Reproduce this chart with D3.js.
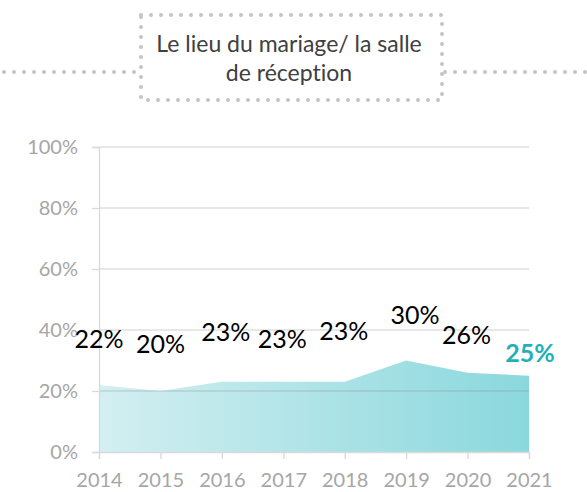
<!DOCTYPE html>
<html>
<head>
<meta charset="utf-8">
<script src="https://cdn.jsdelivr.net/npm/d3@7"></script>
<style>
  body { margin: 0; background: #fff; }
  svg { display: block; font-family: Lato, "Open Sans", sans-serif; font-variant-ligatures: none; }
</style>
</head>
<body>
<div id="chart"></div>
<script>
// data
var years = ["2014", "2015", "2016", "2017", "2018", "2019", "2020", "2021"];
var values = [22, 20, 23, 23, 23, 30, 26, 25];
var yTicks = [0, 20, 40, 60, 80, 100];
var titleLines = ["Le lieu du mariage/ la salle", "de réception"];

// label nudges (layout only)
var labelDx = [0, 0, 4, -1, -1, 9, -1, 1];
var labelDy = [-47, -48, -51, -44, -52, -47, -39, -24];

var width = 587, height = 492;
var margin = { left: 99, right: 58, top: 147, bottom: 40 };

var svg = d3.select("#chart").append("svg")
    .attr("width", width)
    .attr("height", height);

var x = d3.scalePoint()
    .domain(years)
    .range([margin.left, width - margin.right]);

var y = d3.scaleLinear()
    .domain([0, 100])
    .range([height - margin.bottom, margin.top]);

// gradient for the area
var grad = svg.append("defs").append("linearGradient")
    .attr("id", "areaGrad")
    .attr("x1", "0%").attr("x2", "100%")
    .attr("y1", "0%").attr("y2", "0%");
grad.append("stop").attr("offset", "0%").attr("stop-color", "#d3eff1");
grad.append("stop").attr("offset", "100%").attr("stop-color", "#8ad8dd");

// title box with dotted lines
var dotted = function (sel) {
    return sel.attr("stroke", "#c4c4c4")
        .attr("stroke-width", 4)
        .attr("stroke-linecap", "round")
        .attr("stroke-dasharray", "0 10")
        .attr("fill", "none");
};
svg.append("line").attr("x1", 4).attr("x2", 140).attr("y1", 72).attr("y2", 72).call(dotted);
svg.append("line").attr("x1", 445).attr("x2", 587).attr("y1", 72).attr("y2", 72).call(dotted);
svg.append("rect").attr("x", 141).attr("y", 15).attr("width", 301).attr("height", 85).call(dotted);

svg.append("g").selectAll("text")
    .data(titleLines)
    .enter()
    .append("text")
    .attr("x", 289)
    .attr("y", function (d, i) { return 52 + i * 29; })
    .attr("text-anchor", "middle")
    .attr("fill", "#404040")
    .style("font-size", "23px")
    .text(function (d) { return d; });

// area
var area = d3.area()
    .x(function (d, i) { return x(years[i]); })
    .y0(y(0))
    .y1(function (d) { return y(d); });

svg.append("path")
    .datum(values)
    .attr("d", area)
    .attr("fill", "url(#areaGrad)");

// gridlines (drawn on top so they show through the area)
svg.append("g").selectAll("line")
    .data(yTicks.filter(function (d) { return d > 0; }))
    .enter()
    .append("line")
    .attr("x1", margin.left)
    .attr("x2", width - margin.right)
    .attr("y1", function (d) { return y(d); })
    .attr("y2", function (d) { return y(d); })
    .attr("stroke", "#7f7f7f")
    .attr("stroke-opacity", 0.25)
    .attr("stroke-width", 1.3);

// y axis
var yAxis = svg.append("g")
    .attr("transform", "translate(" + margin.left + ",0)")
    .call(d3.axisLeft(y).tickValues(yTicks).tickSize(7).tickPadding(14)
        .tickFormat(function (d) { return d + "%"; }));
yAxis.select(".domain").attr("stroke", "#d9d9d9").attr("stroke-width", 1.3);
yAxis.selectAll(".tick line").attr("stroke", "#d9d9d9").attr("stroke-width", 1.3);
yAxis.selectAll("text").attr("fill", "#a6a6a6").style("font-size", "20px").style("font-family", "Lato, sans-serif");

// x axis
var xAxis = svg.append("g")
    .attr("transform", "translate(0," + y(0) + ")")
    .call(d3.axisBottom(x).tickSize(7).tickPadding(14));
xAxis.select(".domain").attr("stroke", "#d9d9d9").attr("stroke-width", 1.3);
xAxis.selectAll(".tick line").attr("stroke", "#d9d9d9").attr("stroke-width", 1.3);
xAxis.selectAll("text").attr("fill", "#a6a6a6").style("font-size", "20px").style("font-family", "Lato, sans-serif");

// data labels
svg.append("g").selectAll("text")
    .data(values)
    .enter()
    .append("text")
    .attr("x", function (d, i) { return x(years[i]) + labelDx[i]; })
    .attr("y", function (d, i) { return y(d) + labelDy[i]; })
    .attr("text-anchor", "middle")
    .attr("dominant-baseline", "central")
    .attr("fill", function (d, i) { return i === values.length - 1 ? "#1fb1b7" : "#000"; })
    .style("font-weight", function (d, i) { return i === values.length - 1 ? "bold" : "normal"; })
    .style("font-size", "25px")
    .text(function (d) { return d + "%"; });
</script>
</body>
</html>
